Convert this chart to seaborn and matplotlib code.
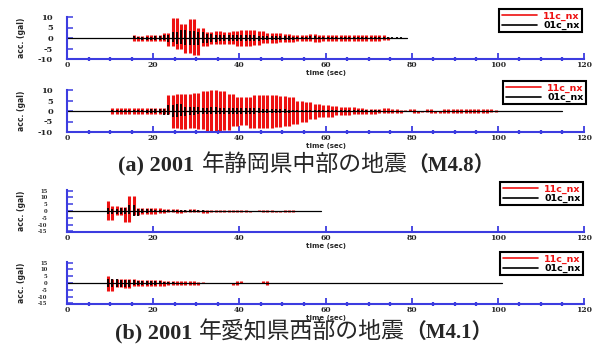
import numpy as np
import pandas as pd
import matplotlib
matplotlib.use("Agg")
import matplotlib.pyplot as plt
from matplotlib.lines import Line2D
import seaborn as sns
from matplotlib.ticker import MultipleLocator, FixedLocator

sns.set_theme(style="white")
plt.rcParams["font.family"] = ["DejaVu Sans", "Noto Sans CJK JP"]

# ---------------- data (signed peak values, one per second from onset) ----------------
legend_labels = ["11c_nx", "01c_nx"]
x_ticks = [0, 20, 40, 60, 80, 100, 120]
y_ticks_a = [-10, -5, 0, 5, 10]
y_ticks_b = [-15, -10, -5, 0, 5, 10, 15]

# (a) panel 1
p1_red_onset = 15
p1_red = [1.5, -1.2, 1.0, -1.5, 1.3, -1.2, 1.5, -1.4, 2.5, -4.0,
          9.5, -5.0, 6.5, -7.0, 9.0, -8.3, 5.0, -4.0, 3.0, -3.0,
          3.2, -2.8, 3.0, -3.0, 3.3, -4.0, 4.0, -4.0, 3.8, -3.5,
          3.5, -2.5, 2.5, -2.2, 2.5, -2.0, 2.0, -2.0, 1.5, -1.5,
          1.5, -1.5, 2.0, -2.0, 1.5, -1.2, 1.5, -1.5, 1.3, -1.2,
          1.5, -1.5, 1.2, -1.3, 1.5, -1.2, 1.3, -1.5, 1.2, -1.0, 0.5]
p1_blk_onset = 15
p1_blk = [0.8, -0.7, 0.6, -0.8, 0.7, -0.8, 0.8, -0.9, 1.2,
          -2.0, 3.0, -3.0, 4.0, -3.5, 3.5, -3.5, 3.0, -2.5, 2.0, -1.8,
          1.5, -1.5, 1.5, -1.2, 1.5, -1.5, 1.5, -1.2, 1.2, -1.2, 1.0,
          -1.0, 1.0, -0.8, 0.8, -0.8, 0.8, -0.8, 0.7, -0.7, 0.7, -0.7, 0.8, -0.7, 0.7, -0.6,
          0.6, -0.6, 0.5, -0.6, 0.6, -0.5, 0.5, -0.5, 0.6, -0.5, 0.5, -0.5, 0.5, -0.4, 0.4, -0.4, 0.4, -0.3]
p1_end = 79

# (a) panel 2
p2_red_onset = 10
p2_red = [1.3, -1.2, 1.5, -1.3, 1.2, -1.5, 1.4, -1.2, 1.5, -1.4, 1.3, -1.5, 1.4, -1.5,
          7.5, -8.0, 8.0, -8.5, 8.0, -8.0, 8.5, -8.5, 9.5, -9.5, 10.0, -9.5, 9.5, -9.0, 8.0,
          -7.0, 6.5, -6.5, 6.5,
          -8.0, 7.5, -8.0, 7.5, -8.0, 7.5, -7.5, 7.0, -7.0, 6.5,
          -6.0, 5.0, -5.0, 4.5, -4.0,
          3.5, -3.0, 3.0, -3.0, 2.5,
          -2.0, 2.0, -2.0, 1.8, -1.5, 1.5,
          -1.2, 1.0, -1.2, 1.0, -1.0, 1.2, -1.0, 0.8, -1.0, 0.3, -0.2, 0.8, -1.0, 0.2, -0.3, 0.8,
          -0.8, 0.2, -0.9, 1.0, -1.0, 1.0, -0.8, 0.8, -1.0, 1.0, -0.8, 1.0, -0.8, 0.8, -0.6, 0.4]
p2_blk_onset = 10
p2_blk = [0.6, -0.6, 0.7, -0.6, 0.6, -0.7, 0.7, -0.6, 0.7, -0.8, 0.8, -0.8, 1.0,
          -2.0, 3.0, -3.0, 3.5, -2.5,
          2.0, -1.8, 1.8, -1.5, 1.5, -1.5, 1.8, -1.5, 1.5, -1.5, 1.5, -1.2, 1.2, -1.2, 1.5, -1.2, 1.2, -1.0,
          1.0, -1.0, 0.8, -0.8, 0.8, -0.8, 0.7, -0.7, 0.6, -0.6, 0.6, -0.5, 0.5, -0.5, 0.5,
          -0.5, 0.4, -0.4, 0.4, -0.4, 0.4, -0.3, 0.3, -0.3, 0.3, -0.3, 0.3, -0.2, 0.2, -0.2]
p2_end = 115

# (b) panel 3
p3_red_onset = 9
p3_red = [7.3, -7.0, 3.5, -3.0, 3.0, -8.3, 11.0, -3.0, 2.5, -2.5, 2.0, -2.5, 2.0,
          -1.2, 1.2, -1.0, 1.2, -1.2, 1.0, -1.0, 1.2, -1.0, 1.0, -1.2, 1.0, -1.0, 1.0, -0.8, 1.0, -1.0,
          0.8, -0.8, 1.0, -0.8, 0.3, -0.3, 0.8, -1.0, 1.0, -0.8, 0.3, -0.8, 1.0, -0.8, 0.5]
p3_blk_onset = 9
p3_blk = [2.0, -2.0, 1.8, -2.0, 2.0, -2.5, 4.4, -4.0,
          1.2, -1.2, 1.2, -1.0, 1.0, -1.0,
          0.6, -0.5, 0.5, -0.5, 0.5, -0.5, 0.4, -0.4, 0.4, -0.4, 0.3, -0.3, 0.3, -0.3, 0.3, -0.2, 0.2, -0.2]
p3_end = 59

# (b) panel 4
p4_red_onset = 9
p4_red = [5.0, -6.0, 3.2, -3.2, 3.0, -4.0, 3.2,
          -2.5, 2.5, -2.5, 2.2, -2.5, 2.0, -2.0,
          1.5, -1.5, 1.5, -1.5, 1.5, -1.3, 1.5, -1.3, 0.8,
          0.0, 0.0, 0.0, 0.0, 0.0, 0.0, 0.0, -1.7, 1.5, 0.0, 0.0, 0.0, 0.0, 0.0, 1.5, -1.2]
p4_blk_onset = 9
p4_blk = [3.0, -3.0, 2.8, -3.0, 2.5, -2.8,
          2.0, -1.8, 1.8, -1.8, 1.5, -1.5, 1.5,
          -0.8, 0.6, -0.5, 0.4]
p4_end = 101

titles = [("(a) 2001 ", "年静岡県中部の地震", "（M4.8）"),
          ("(b) 2001 ", "年愛知県西部の地震", "（M4.1）")]

# ---------------- figure ----------------
W, H = 596, 347
fig = plt.figure(figsize=(W / 100, H / 100), dpi=100)
BLUE = "#3c3ce0"
RED = "#ee1111"


def px_axes(left, top, right, bottom):
    return fig.add_axes([left / W, 1 - bottom / H, (right - left) / W, (bottom - top) / H])


def strokes(onset, peaks):
    """Each swing between consecutive peaks drawn as one vertical stroke."""
    rows = []
    for i in range(len(peaks) - 1):
        t = onset + i + 0.5
        rows.append((i, t, peaks[i]))
        rows.append((i, t, peaks[i + 1]))
    return pd.DataFrame(rows, columns=["swing", "t", "acc"])


panels = [
    dict(box=(67, 17, 584, 59), red=(p1_red_onset, p1_red), blk=(p1_blk_onset, p1_blk),
         end=p1_end, ylim=(-10, 10), yt=y_ticks_a, minor=True, leg=(582, 9)),
    dict(box=(67, 90, 584, 132), red=(p2_red_onset, p2_red), blk=(p2_blk_onset, p2_blk),
         end=p2_end, ylim=(-10, 10), yt=y_ticks_a, minor=True, leg=(586, 81)),
    dict(box=(67, 190, 584, 232), red=(p3_red_onset, p3_red), blk=(p3_blk_onset, p3_blk),
         end=p3_end, ylim=(-15.5, 15.5), yt=y_ticks_b, minor=False, leg=(583, 182)),
    dict(box=(67, 262, 584, 304), red=(p4_red_onset, p4_red), blk=(p4_blk_onset, p4_blk),
         end=p4_end, ylim=(-15.5, 15.5), yt=y_ticks_b, minor=True, leg=(583, 252)),
]

for i, p in enumerate(panels):
    ax = px_axes(*p["box"])
    sns.lineplot(data=strokes(*p["red"]), x="t", y="acc", units="swing", ax=ax,
                 color=RED, lw=2.2, estimator=None, sort=False, solid_capstyle="butt")
    base = pd.DataFrame({"t": [0, p["end"]], "acc": [0, 0]})
    sns.lineplot(data=base, x="t", y="acc", ax=ax, color="black", lw=0.9,
                 estimator=None, sort=False)
    sns.lineplot(data=strokes(*p["blk"]), x="t", y="acc", units="swing", ax=ax,
                 color="black", lw=1.3, estimator=None, sort=False, solid_capstyle="butt")
    ax.set_xlim(0, 120)
    ax.set_ylim(*p["ylim"])
    ax.grid(False)
    ax.set_facecolor("white")
    for s in ["top", "right"]:
        ax.spines[s].set_visible(False)
    for s in ["left", "bottom"]:
        ax.spines[s].set_color(BLUE)
        ax.spines[s].set_linewidth(1.5)
    ax.xaxis.set_major_locator(FixedLocator(x_ticks))
    ax.set_xticklabels([str(v) for v in x_ticks], fontsize=5.5, fontweight="bold",
                       family="DejaVu Serif")
    if p["minor"]:
        ax.xaxis.set_minor_locator(MultipleLocator(5))
    ax.tick_params(axis="x", which="major", direction="in", length=4, width=1.3,
                   color=BLUE, pad=1.5, bottom=True)
    ax.tick_params(axis="x", which="minor", direction="inout", length=2.2, width=1.6,
                   color=BLUE, bottom=True)
    ax.yaxis.set_major_locator(FixedLocator(p["yt"]))
    if len(p["yt"]) == 5:
        ax.set_yticklabels([str(v) for v in p["yt"]], fontsize=6, fontweight="bold",
                           family="DejaVu Serif")
        ax.tick_params(axis="y", direction="in", length=4, width=1.1, color=BLUE, pad=10, left=True)
    else:
        ax.set_yticklabels([str(v) for v in p["yt"]], fontsize=3.8, fontweight="bold",
                           family="DejaVu Serif")
        ax.tick_params(axis="y", direction="in", length=4, width=1.1, color=BLUE, pad=14, left=True)
    ax.set_ylabel("acc. (gal)", fontsize=5.5, fontweight="bold")
    ax.yaxis.set_label_coords(-0.08, 0.5)
    ax.set_xlabel("time (sec)", fontsize=5, fontweight="bold")
    ax.xaxis.set_label_coords(0.5, -0.27)

    handles = [Line2D([0], [0], color=RED, lw=1.2), Line2D([0], [0], color="black", lw=1.2)]
    lx, ly = p["leg"]
    leg = ax.legend(handles, legend_labels, loc="upper right", bbox_to_anchor=(lx / W, 1 - ly / H),
                    bbox_transform=fig.transFigure, frameon=True, fancybox=False,
                    edgecolor="black", framealpha=1, borderaxespad=0,
                    prop={"size": 6.8, "weight": "bold"}, handlelength=3.8,
                    handletextpad=0.6, borderpad=0.25, labelspacing=0.05)
    leg.get_frame().set_linewidth(1.5)
    for txt, c in zip(leg.get_texts(), [RED, "black"]):
        txt.set_color(c)

# ---------------- captions ----------------
for (t1, t2, t3), (x0, xj, xm, yb) in zip(titles, [(118, 202, 407, 171), (115, 199, 405, 338)]):
    fig.text(x0 / W, 1 - yb / H, t1, fontsize=16, fontweight="bold",
             family=["Liberation Serif", "Noto Sans CJK JP"], va="baseline", ha="left")
    fig.text(xj / W, 1 - yb / H, t2, fontsize=16.5, family=["Noto Sans CJK JP"],
             va="baseline", ha="left")
    fig.text(xm / W, 1 - yb / H, t3, fontsize=15, fontweight="bold",
             family=["Liberation Serif", "Noto Sans CJK JP"], va="baseline", ha="left")

fig.savefig("out.png", dpi=100)
